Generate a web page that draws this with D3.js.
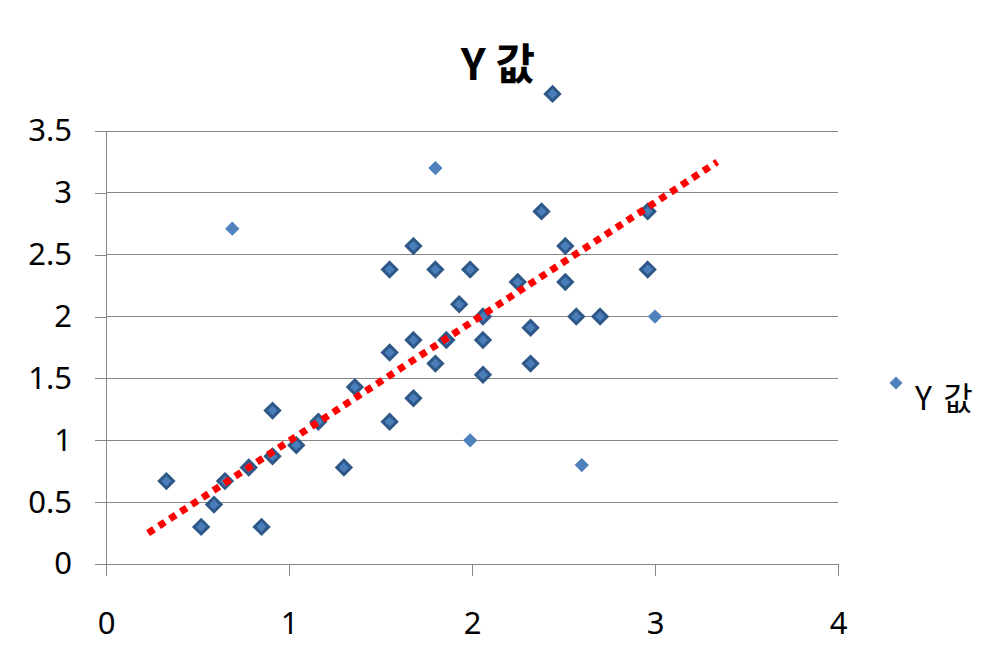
<!DOCTYPE html>
<html><head><meta charset="utf-8">
<script src="https://cdn.jsdelivr.net/npm/d3@7"></script>
<style>body{margin:0;background:#fff}svg{display:block}</style>
</head><body>
<svg id="c" width="1002" height="669"></svg>
<script>
const title = "Y 값";
const seriesName = "Y 값";
const xTicks = [0, 1, 2, 3, 4];
const yTicks = [0, 0.5, 1, 1.5, 2, 2.5, 3, 3.5];
// clustered points
const xValues = [0.33,0.52,0.59,0.65,0.78,0.85,0.91,0.91,1.04,1.16,1.30,1.36,1.55,1.55,1.55,1.68,1.68,1.68,1.80,1.80,1.86,1.93,1.99,2.06,2.06,2.06,2.25,2.32,2.32,2.38,2.44,2.51,2.51,2.57,2.70,2.96,2.96];
const yValues = [0.67,0.30,0.48,0.67,0.78,0.30,1.24,0.87,0.96,1.15,0.78,1.43,2.38,1.71,1.15,2.57,1.81,1.34,2.38,1.62,1.81,2.10,2.38,2.00,1.81,1.53,2.28,1.91,1.62,2.85,3.80,2.57,2.28,2.00,2.00,2.85,2.38];
// single points
const xSingle = [0.69, 1.80, 1.99, 2.60, 3.00];
const ySingle = [2.71, 3.20, 1.00, 0.80, 2.00];
// linear trend line end points
const trendX = [0.23, 3.34];
const trendY = [0.25, 3.25];

const svg = d3.select("#c");
const x = d3.scaleLinear().domain([0, 4]).range([106, 838]);
const y = d3.scaleLinear().domain([0, 3.5]).range([564, 131]);
const font = "'Noto Sans', 'Open Sans', sans-serif";

// gridlines
svg.append("g").selectAll("line").data(yTicks.slice(1)).join("line")
  .attr("x1", x(0)).attr("x2", x(4)).attr("y1", d => y(d)).attr("y2", d => y(d))
  .attr("stroke", "#868686").attr("stroke-width", 1).attr("shape-rendering", "crispEdges");

// y axis
const yAxis = svg.append("g").attr("transform", `translate(${x(0)},0)`)
  .call(d3.axisLeft(y).tickValues(yTicks).tickSize(11).tickPadding(23).tickFormat(d3.format("")));
yAxis.select(".domain").attr("d", `M0,${y(3.5)}V${y(0) + 12}`);
// x axis
const xAxis = svg.append("g").attr("transform", `translate(0,${y(0)})`)
  .call(d3.axisBottom(x).tickValues(xTicks).tickSize(12).tickPadding(36).tickFormat(d3.format("")));
xAxis.select(".domain").attr("d", `M${x(0) - 11},0H${x(4)}`);
svg.selectAll(".domain, .tick line").attr("stroke", "#868686").attr("shape-rendering", "crispEdges");
svg.selectAll(".tick text").attr("font-family", font).attr("font-size", 31).attr("fill", "#000");

// points
const diamond = d3.symbol().type(d3.symbolDiamond2);
svg.append("g").selectAll("path").data(xSingle.map((v, i) => [v, ySingle[i]])).join("path")
  .attr("d", diamond.size(130)())
  .attr("transform", d => `translate(${x(d[0])},${y(d[1])})`)
  .attr("fill", "#4F81BD");
svg.append("g").selectAll("path").data(xValues.map((v, i) => [v, yValues[i]])).join("path")
  .attr("d", diamond.size(128)())
  .attr("transform", d => `translate(${x(d[0])},${y(d[1])})`)
  .attr("fill", "#4A7EBB").attr("stroke", "#2E5887").attr("stroke-width", 3);

// trend line
svg.append("line")
  .attr("x1", x(trendX[0])).attr("y1", y(trendY[0]))
  .attr("x2", x(trendX[1])).attr("y2", y(trendY[1]))
  .attr("stroke", "#FF0000").attr("stroke-width", 7).attr("stroke-dasharray", "7,6");

// title
svg.append("text").attr("x", 498).attr("y", 80).attr("text-anchor", "middle")
  .attr("font-family", "'Noto Sans CJK KR', sans-serif").attr("font-weight", "bold")
  .attr("font-size", 43).text(title);

// legend
svg.append("path").attr("d", d3.symbol().type(d3.symbolDiamond2).size(110)())
  .attr("transform", "translate(896,383)").attr("fill", "#4F81BD");
svg.append("text").attr("x", 915).attr("y", 410)
  .attr("font-family", "'Noto Sans CJK KR', sans-serif").attr("font-size", 32)
  .attr("letter-spacing", 2).text(seriesName);
</script>
</body></html>
